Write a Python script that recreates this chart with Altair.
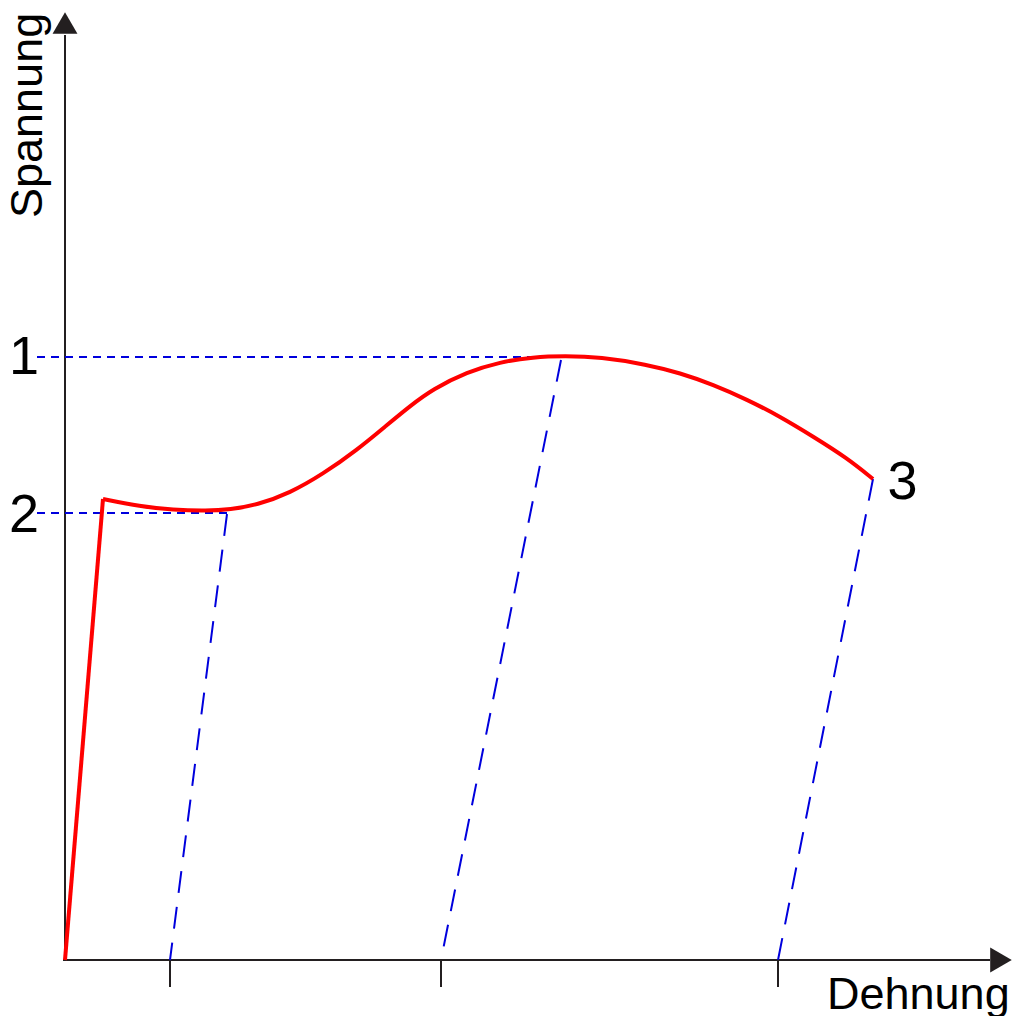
import altair as alt
import pandas as pd

# Stress-strain diagram (unitless; strain, stress)
elastic_strain = [0.0, 3.8]
elastic_stress = [0.0, 46.1]

curve_strain = [3.8, 7.5, 10.8, 14.2, 16.5, 19.2, 22.5, 25.8, 29.2, 32.2, 34.5,
                36.8, 40.2, 43.5, 46.8, 50.0, 53.5, 58.2, 61.5, 64.8, 68.2, 71.5,
                74.8, 78.2, 80.8]
curve_stress = [46.1, 45.35, 45.0, 44.9, 45.05, 45.5, 46.7, 48.6, 51.0, 53.5, 55.4,
                57.1, 58.8, 59.8, 60.3, 60.4, 60.3, 59.55, 58.7, 57.55, 56.05, 54.35,
                52.35, 50.2, 48.1]

level_labels = ["1", "2"]
level_stress = [60.3, 44.7]
level_start_strain = [-2.8, -2.8]
level_end_strain = [50.0, 16.2]
level_label_stress = [58.6, 42.8]

unload_top_strain = [16.2, 49.6, 80.8]
unload_top_stress = [44.6, 60.0, 48.1]
unload_bottom_strain = [10.5, 37.6, 71.3]

point3_label = ["3"]
point3_strain = [83.75]
point3_stress = [46.1]

axis_x_end = 92.5
axis_y_end = 92.5
tick_depth = -2.7

x_title = "Dehnung"
y_title = "Spannung"

xs = alt.Scale(domain=[-5.7, 95.1], nice=False, zero=False)
ys = alt.Scale(domain=[-5.6, 95.2], nice=False, zero=False)

BLUE = "#0000dd"
AX = "#231f20"

def X(f, **kw):
    return alt.X(f, type="quantitative", scale=xs, axis=None, **kw)

def Y(f, **kw):
    return alt.Y(f, type="quantitative", scale=ys, axis=None, **kw)

font = "Liberation Sans"

# axes lines
axes_df = pd.DataFrame({"x": [0.0, -0.2], "y": [0.0, 0.0],
                        "x2": [0.0, axis_x_end], "y2": [axis_y_end, 0.0]})
axes = alt.Chart(axes_df).mark_rule(color=AX, strokeWidth=2).encode(
    x=X("x"), y=Y("y"), x2="x2", y2="y2")

arrow_up = alt.Chart(pd.DataFrame({"x": [0.0], "y": [93.7]})).mark_point(
    shape="triangle-up", filled=True, size=620, color=AX, opacity=1).encode(x=X("x"), y=Y("y"))
arrow_right = alt.Chart(pd.DataFrame({"x": [93.6], "y": [0.0]})).mark_point(
    shape="triangle-right", filled=True, size=620, color=AX, opacity=1).encode(x=X("x"), y=Y("y"))

ticks_df = pd.DataFrame({"x": unload_bottom_strain, "y": [0.0] * 3, "y2": [tick_depth] * 3})
ticks = alt.Chart(ticks_df).mark_rule(color=AX, strokeWidth=2).encode(
    x=X("x"), y=Y("y"), y2="y2")

level_df = pd.DataFrame({"x": level_start_strain, "x2": level_end_strain, "y": level_stress})
levels = alt.Chart(level_df).mark_rule(color=BLUE, strokeWidth=2, strokeDash=[8, 6]).encode(
    x=X("x"), x2="x2", y=Y("y"))

unload_df = pd.DataFrame({"x": unload_top_strain, "y": unload_top_stress,
                          "x2": unload_bottom_strain, "y2": [0.0] * 3})
unload = alt.Chart(unload_df).mark_rule(color=BLUE, strokeWidth=2, strokeDash=[22, 14]).encode(
    x=X("x"), y=Y("y"), x2="x2", y2="y2")

elastic = alt.Chart(pd.DataFrame({"x": elastic_strain, "y": elastic_stress})).mark_line(
    color="#ff0000", strokeWidth=4).encode(x=X("x"), y=Y("y"))

curve = alt.Chart(pd.DataFrame({"x": curve_strain, "y": curve_stress,
                                "o": range(len(curve_strain))})).mark_line(
    color="#ff0000", strokeWidth=4, interpolate="basis").encode(x=X("x"), y=Y("y"), order="o:Q")

lab_df = pd.DataFrame({"t": level_labels + point3_label,
                       "x": [-4.1, -4.1] + point3_strain,
                       "y": level_label_stress + point3_stress})
labels = alt.Chart(lab_df).mark_text(font=font, fontSize=54, align="center",
                                     baseline="alphabetic", color="black").encode(
    x=X("x"), y=Y("y"), text="t:N")

xt = alt.Chart(pd.DataFrame({"t": [x_title], "x": [76.2], "y": [-4.9]})).mark_text(
    font=font, fontSize=45, align="left", baseline="alphabetic", color="black").encode(
    x=X("x"), y=Y("y"), text="t:N")
yt = alt.Chart(pd.DataFrame({"t": [y_title], "x": [-2.3], "y": [74.2]})).mark_text(
    font=font, fontSize=45, align="left", baseline="alphabetic", angle=270, color="black").encode(
    x=X("x"), y=Y("y"), text="t:N")

chart = alt.layer(axes, ticks, levels, unload, elastic, curve, arrow_up, arrow_right,
                  labels, xt, yt).properties(
    width=1008, height=1008, padding=0, autosize=alt.AutoSizeParams(type="none")
).configure_view(stroke=None)

chart.save("out.html", embed_options={"renderer": "svg", "actions": False})
